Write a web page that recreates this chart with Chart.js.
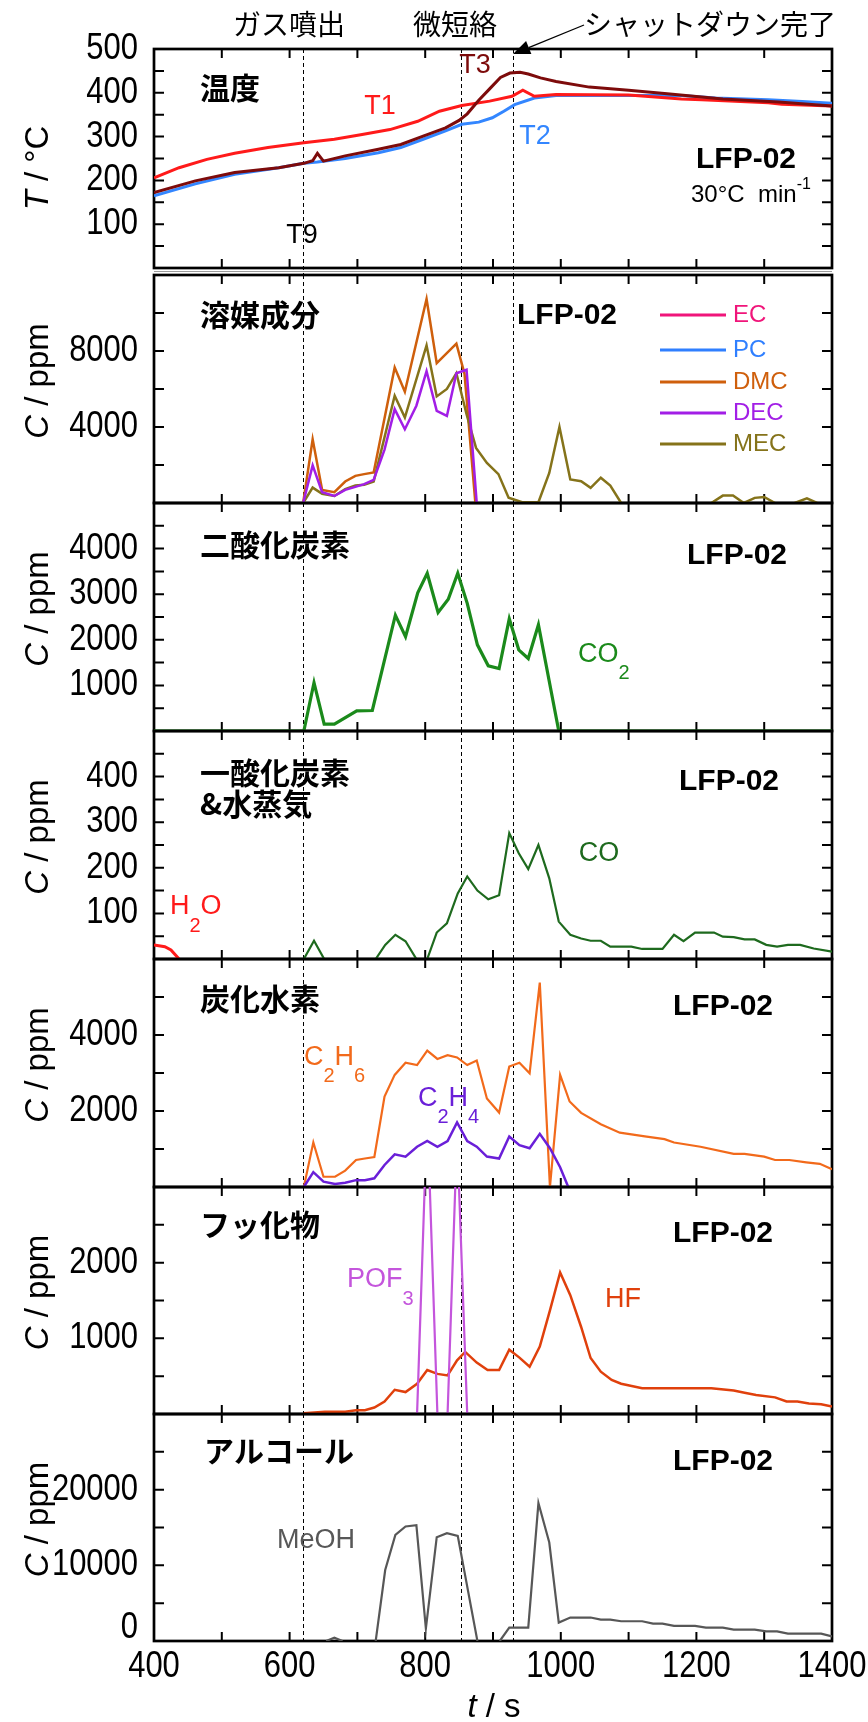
<!DOCTYPE html>
<html lang="ja">
<head>
<meta charset="utf-8">
<title>LFP-02 発生ガス分析</title>
<script src="https://cdn.jsdelivr.net/npm/chart.js@4.4.1/dist/chart.umd.min.js"></script>
<style>
  html, body { margin: 0; padding: 0; background: #fff; }
  #wrap { position: relative; width: 868px; height: 1722px; overflow: hidden; background: #fff; }
  #wrap canvas { position: absolute; left: 0; }
</style>
</head>
<body>
<div id="wrap"></div>
<script>
// イベント時刻 (ガス噴出, 微短絡, シャットダウン完了)
const eventTimes = [620, 853, 929];

// 温度
const t1Time = [400, 437, 478, 519, 568, 621, 666, 707, 748, 789, 821, 854, 895, 928, 944, 961, 993, 1100, 1178, 1208, 1306, 1326, 1400];
const t1Temp = [206, 229, 248, 262, 275, 286, 294, 305, 316, 335, 358, 371, 381, 392, 406, 392, 396, 395, 386, 384, 377, 374, 370];
const t2Time = [400, 461, 519, 584, 621, 641, 682, 731, 764, 797, 830, 854, 879, 899, 916, 932, 961, 993, 1178, 1228, 1306, 1356, 1400];
const t2Temp = [165, 192, 214, 229, 239, 242, 250, 263, 275, 294, 313, 328, 333, 343, 358, 373, 388, 394, 394, 388, 384, 380, 376];
const t3Time = [400, 461, 519, 584, 621, 634, 641, 650, 682, 731, 764, 797, 830, 850, 862, 879, 895, 911, 925, 940, 952, 970, 993, 1042, 1100, 1157, 1239, 1321, 1400];
const t3Temp = [172, 199, 218, 229, 239, 245, 262, 244, 256, 271, 282, 301, 320, 337, 352, 383, 409, 435, 445, 447, 443, 434, 426, 413, 406, 398, 386, 379, 370];

// 溶媒成分
const ecTime = [], ecVal = [];
const pcTime = [], pcVal = [];
const dmcTime = [620, 634, 648, 666, 682, 697, 710, 724, 755, 770, 802, 817, 846, 858, 874];
const dmcVal  = [0, 3350, 690, 570, 1130, 1430, 1520, 1610, 7130, 5860, 10740, 7360, 8390, 6800, 0];
const decTime = [620, 634, 648, 666, 682, 697, 710, 724, 740, 755, 770, 787, 802, 817, 832, 846, 861, 876];
const decVal  = [0, 1980, 570, 370, 690, 850, 990, 1220, 2810, 4940, 3880, 5120, 6940, 4850, 4580, 6830, 7010, 0];
const mecTime = [620, 634, 648, 666, 682, 697, 710, 724, 755, 770, 802, 817, 832, 846, 861, 875, 891, 908, 923, 943, 967, 983, 998, 1014, 1030, 1044, 1059, 1073, 1089, 1150, 1222, 1239, 1254, 1270, 1286, 1300, 1316, 1330, 1345, 1363, 1378];
const mecVal  = [0, 810, 480, 370, 730, 920, 960, 1130, 5650, 4500, 8300, 5610, 6000, 6830, 4670, 2900, 2110, 1520, 280, 40, 40, 1580, 4000, 1240, 1150, 800, 1330, 920, 0, null, 0, 390, 390, 0, 270, 320, 0, null, 0, 250, 0];

// 二酸化炭素
const co2Time = [400, 621, 636, 651, 666, 699, 722, 756, 771, 789, 803, 819, 834, 848, 862, 877, 893, 909, 924, 938, 952, 967, 997, 1400];
const co2Val  = [0, 0, 1060, 150, 150, 440, 450, 2540, 2070, 3030, 3460, 2600, 2890, 3460, 2800, 1890, 1430, 1370, 2460, 1780, 1590, 2330, 0, 0];

// 一酸化炭素 & 水蒸気
const coTime = [621, 636, 651, 690, 727, 741, 756, 771, 787, 803, 817, 832, 848, 862, 877, 893, 909, 924, 938, 952, 967, 983, 997, 1014, 1030, 1044, 1059, 1073, 1104, 1120, 1150, 1167, 1181, 1198, 1226, 1239, 1255, 1271, 1286, 1303, 1319, 1335, 1353, 1373, 1400];
const coVal  = [0, 40, 0, null, 0, 31, 53, 39, 0, 0, 58, 78, 144, 181, 150, 131, 140, 276, 232, 197, 250, 177, 82, 53, 45, 40, 40, 27, 27, 22, 22, 53, 39, 58, 58, 49, 48, 43, 43, 31, 27, 31, 31, 23, 16];
const h2oTime = [400, 416, 425, 437];
const h2oVal  = [31, 27, 20, 0];

// 炭化水素
const c2h6Time = [621, 635, 650, 667, 682, 698, 711, 725, 740, 755, 771, 788, 803, 818, 833, 847, 862, 876, 891, 909, 924, 939, 954, 969, 984, 999, 1013, 1030, 1059, 1087, 1124, 1153, 1167, 1206, 1255, 1271, 1300, 1316, 1337, 1362, 1382, 1400];
const c2h6Val  = [0, 1175, 270, 270, 430, 710, 750, 790, 2380, 2950, 3270, 3210, 3590, 3370, 3470, 3410, 3210, 3330, 2330, 1960, 3170, 3270, 2990, 5380, 0, 2950, 2250, 1950, 1650, 1430, 1330, 1260, 1170, 1060, 870, 870, 800, 710, 710, 650, 610, 470];
const c2h4Time = [621, 635, 650, 667, 682, 698, 711, 725, 740, 755, 771, 788, 803, 818, 833, 847, 862, 876, 891, 909, 924, 939, 954, 969, 984, 999, 1011];
const c2h4Val  = [0, 390, 140, 80, 110, 180, 180, 230, 580, 860, 800, 1060, 1210, 1060, 1210, 1700, 1210, 1060, 800, 750, 1330, 1100, 1020, 1400, 1020, 520, 0];

// フッ化物
const hfTime = [621, 652, 682, 698, 711, 725, 740, 755, 771, 788, 803, 818, 833, 847, 859, 876, 892, 909, 924, 939, 954, 969, 984, 999, 1014, 1030, 1044, 1059, 1075, 1089, 1120, 1222, 1255, 1271, 1288, 1316, 1333, 1349, 1366, 1384, 1400];
const hfVal  = [10, 30, 30, 50, 50, 85, 165, 320, 290, 400, 580, 530, 510, 710, 820, 680, 580, 580, 850, 745, 625, 890, 1370, 1870, 1570, 1150, 740, 560, 450, 400, 340, 340, 310, 280, 250, 220, 165, 165, 140, 130, 100];
const pof3Time = [788, 803, 818, 833, 847, 862];
const pof3Val  = [0, 4000, 0, 0, 3700, 0];

// アルコール
const meohTime = [654, 666, 678, 700, 727, 741, 756, 771, 787, 801, 817, 832, 848, 877, 895, 910, 924, 952, 967, 983, 997, 1014, 1044, 1059, 1073, 1089, 1120, 1136, 1150, 1167, 1198, 1214, 1239, 1255, 1286, 1303, 1319, 1335, 1384, 1400];
const meohVal  = [0, 440, 0, null, 0, 9380, 14030, 15130, 15310, 1640, 13720, 14250, 13890, 0, null, 0, 1770, 1770, 18230, 13010, 2430, 3100, 3100, 2830, 2830, 2610, 2610, 2300, 2300, 1990, 1990, 1770, 1770, 1500, 1500, 1280, 1280, 970, 970, 620];

// 目盛ラベル
const timeTicks    = [400, 600, 800, 1000, 1200, 1400];
const tempTicks    = [100, 200, 300, 400, 500];
const solventTicks = [4000, 8000];
const co2Ticks     = [1000, 2000, 3000, 4000];
const coTicks      = [100, 200, 300, 400];
const hcTicks      = [2000, 4000];
const fluorTicks   = [1000, 2000];
const alcTicks     = [0, 10000, 20000];

// ---------------------------------------------------------------
const W = 868, PLOT_LEFT = 154, PLOT_RIGHT = 832, X_STEP = 100;
const SANS = '"Liberation Sans", Arial, sans-serif';
const JP = '"Noto Sans CJK JP", "Noto Sans CJK SC", sans-serif';
const NUM_FONT = '36px ' + SANS;   // 横に詰めて描く
const NUM_SQUEEZE = 0.86;
const F = {
  jpBold: 'bold 30px ' + JP,
  jpTop: '28px ' + JP,
  lfp: 'bold 30px ' + SANS,
  ser: '27px ' + SANS,
  sub: '20px ' + SANS,
  small: '24px ' + SANS,
  sup: '16px ' + SANS,
  leg: '24px ' + SANS,
  title: '33px ' + SANS,
  titleIt: 'italic 33px ' + SANS
};
const COL = {
  t1: '#ff1a1a', t2: '#3386ff', t3: '#7d0b0b',
  ec: '#f0157a', pc: '#2f7fff', dmc: '#cf5f0c', dec: '#a21ee6', mec: '#85731a',
  co2: '#1b8a1b', co: '#1e6a1e', h2o: '#ff1a1a',
  c2h6: '#f26a1b', c2h4: '#6a1fd8',
  hf: '#e0400c', pof3: '#c455dc', meoh: '#575757'
};

function pts(xs, ys) {
  return xs.map((t, i) => ({ x: t, y: ys[i] }));
}
function line(label, xs, ys, color, width, order) {
  return {
    label: label, data: pts(xs, ys), borderColor: color, backgroundColor: color,
    borderWidth: width, pointRadius: 0, tension: 0, fill: false, spanGaps: false,
    order: order || 0
  };
}
const cTitle = [['C', F.titleIt], [' / ppm', F.title]];

const panels = [
  {
    top: 49, bottom: 268, max: 500, step: 50, ticks: tempTicks, gapBelow: 7,
    yTitle: [['T', F.titleIt], [' / °C', F.title]], titleY: 168,
    datasets: [
      line('T3', t3Time, t3Temp, COL.t3, 3, 0),
      line('T1', t1Time, t1Temp, COL.t1, 3, 1),
      line('T2', t2Time, t2Temp, COL.t2, 3, 2)
    ],
    notes: [
      { x: 200, y: 88, runs: [['温度', F.jpBold]] },
      { x: 380, y: 107, align: 'center', color: COL.t1, runs: [['T1', F.ser]] },
      { x: 475, y: 66, align: 'center', color: COL.t3, runs: [['T3', F.ser]] },
      { x: 535, y: 137, align: 'center', color: COL.t2, runs: [['T2', F.ser]] },
      { x: 746, y: 160, align: 'center', runs: [['LFP-02', F.lfp]] },
      { x: 691, y: 195, runs: [['30°C  min', F.small], ['-1', F.sup, -10]] },
      { x: 302, y: 236, align: 'center', runs: [['T9', F.ser]] },
      { x: 289, y: 24, align: 'center', runs: [['ガス噴出', F.jpTop]] },
      { x: 455, y: 24, align: 'center', runs: [['微短絡', F.jpTop]] },
      { x: 710, y: 24, align: 'center', runs: [['シャットダウン完了', F.jpTop]] }
    ],
    arrow: { from: [584, 25], to: [513, 54] }
  },
  {
    top: 275, bottom: 503, max: 12000, step: 2000, ticks: solventTicks,
    yTitle: cTitle,
    datasets: [
      line('EC', ecTime, ecVal, COL.ec, 2.5, 3),
      line('PC', pcTime, pcVal, COL.pc, 2.5, 4),
      line('DMC', dmcTime, dmcVal, COL.dmc, 2.5, 2),
      line('DEC', decTime, decVal, COL.dec, 2.5, 0),
      line('MEC', mecTime, mecVal, COL.mec, 2.5, 1)
    ],
    legend: { x1: 660, x2: 726, tx: 733, ys: [315, 350, 382, 413, 444] },
    notes: [
      { x: 200, y: 315, runs: [['溶媒成分', F.jpBold]] },
      { x: 567, y: 316, align: 'center', runs: [['LFP-02', F.lfp]] }
    ]
  },
  {
    top: 503, bottom: 731, max: 5000, step: 500, ticks: co2Ticks,
    yTitle: cTitle,
    datasets: [line('CO2', co2Time, co2Val, COL.co2, 3.2)],
    notes: [
      { x: 200, y: 545, runs: [['二酸化炭素', F.jpBold]] },
      { x: 737, y: 556, align: 'center', runs: [['LFP-02', F.lfp]] },
      { x: 578, y: 655, color: COL.co2, runs: [['CO', F.ser], ['2', F.sub, 18]] }
    ]
  },
  {
    top: 731, bottom: 959, max: 500, step: 50, ticks: coTicks,
    yTitle: cTitle,
    datasets: [
      line('CO', coTime, coVal, COL.co, 2.2, 0),
      line('H2O', h2oTime, h2oVal, COL.h2o, 3, 1)
    ],
    notes: [
      { x: 200, y: 773, runs: [['一酸化炭素', F.jpBold]] },
      { x: 200, y: 804, runs: [['&水蒸気', F.jpBold]] },
      { x: 729, y: 782, align: 'center', runs: [['LFP-02', F.lfp]] },
      { x: 599, y: 854, align: 'center', color: COL.co, runs: [['CO', F.ser]] },
      { x: 170, y: 907, color: COL.h2o, runs: [['H', F.ser], ['2', F.sub, 19], ['O', F.ser]] }
    ]
  },
  {
    top: 959, bottom: 1187, max: 6000, step: 1000, ticks: hcTicks,
    yTitle: cTitle,
    datasets: [
      line('C2H4', c2h4Time, c2h4Val, COL.c2h4, 2.5, 0),
      line('C2H6', c2h6Time, c2h6Val, COL.c2h6, 2.2, 1)
    ],
    notes: [
      { x: 200, y: 999, runs: [['炭化水素', F.jpBold]] },
      { x: 723, y: 1007, align: 'center', runs: [['LFP-02', F.lfp]] },
      { x: 304, y: 1058, color: COL.c2h6, runs: [['C', F.ser], ['2', F.sub, 18], ['H', F.ser], ['6', F.sub, 18]] },
      { x: 418, y: 1099, color: COL.c2h4, runs: [['C', F.ser], ['2', F.sub, 18], ['H', F.ser], ['4', F.sub, 18]] }
    ]
  },
  {
    top: 1187, bottom: 1414, max: 3000, step: 500, ticks: fluorTicks,
    yTitle: cTitle,
    datasets: [
      line('HF', hfTime, hfVal, COL.hf, 2.5, 1),
      line('POF3', pof3Time, pof3Val, COL.pof3, 2.2, 0)
    ],
    notes: [
      { x: 200, y: 1225, runs: [['フッ化物', F.jpBold]] },
      { x: 723, y: 1234, align: 'center', runs: [['LFP-02', F.lfp]] },
      { x: 347, y: 1280, color: COL.pof3, runs: [['POF', F.ser], ['3', F.sub, 19]] },
      { x: 623, y: 1300, align: 'center', color: COL.hf, runs: [['HF', F.ser]] }
    ]
  },
  {
    top: 1414, bottom: 1641, max: 30000, step: 5000, ticks: alcTicks, showTime: true, zeroLift: 13,
    yTitle: cTitle,
    datasets: [line('MeOH', meohTime, meohVal, COL.meoh, 2.2)],
    notes: [
      { x: 204, y: 1451, runs: [['アルコール', F.jpBold]] },
      { x: 723, y: 1462, align: 'center', runs: [['LFP-02', F.lfp]] },
      { x: 316, y: 1541, align: 'center', color: COL.meoh, runs: [['MeOH', F.ser]] },
      { x: 494, y: 1708, align: 'center', runs: [['t', F.titleIt], [' / s', F.title]] }
    ]
  }
];

// 書式の異なる区切りを横に並べて描く
function drawRuns(ctx, runs, x, y, align) {
  let total = 0;
  const widths = runs.map(r => { ctx.font = r[1]; const w = ctx.measureText(r[0]).width; total += w; return w; });
  let cx = align === 'center' ? x - total / 2 : x;
  ctx.textAlign = 'left';
  ctx.textBaseline = 'middle';
  runs.forEach((r, i) => {
    ctx.font = r[1];
    ctx.fillText(r[0], cx, y + (r[2] || 0));
    cx += widths[i];
  });
}

// 目盛の数字 (幅を詰めた書体)
function drawNum(ctx, text, x, y, align) {
  ctx.save();
  ctx.translate(x, y);
  ctx.scale(NUM_SQUEEZE, 1);
  ctx.font = NUM_FONT;
  ctx.fillStyle = '#000';
  ctx.textAlign = align;
  ctx.textBaseline = 'middle';
  ctx.fillText(text, 0, 0);
  ctx.restore();
}

function makeDeco(p, canvasTop) {
  return {
    id: 'deco',
    beforeDatasetsDraw(chart) {
      const { ctx, chartArea: a } = chart;
      const xs = chart.scales.x, ys = chart.scales.y;
      ctx.save();
      ctx.strokeStyle = '#000';
      // 破線 (イベント)
      ctx.lineWidth = 1;
      ctx.setLineDash([4, 3]);
      eventTimes.forEach(t => {
        const px = Math.round(xs.getPixelForValue(t)) + 0.5;
        ctx.beginPath();
        ctx.moveTo(px, a.top);
        ctx.lineTo(px, a.bottom + (p.gapBelow || 0));
        ctx.stroke();
      });
      ctx.setLineDash([]);
      // 内向き目盛
      ctx.lineWidth = 2;
      for (let v = xs.min + X_STEP; v < xs.max; v += X_STEP) {
        const px = xs.getPixelForValue(v);
        ctx.beginPath();
        ctx.moveTo(px, a.top); ctx.lineTo(px, a.top + 9);
        ctx.moveTo(px, a.bottom); ctx.lineTo(px, a.bottom - 9);
        ctx.stroke();
      }
      for (let v = p.step; v < p.max; v += p.step) {
        const py = ys.getPixelForValue(v);
        ctx.beginPath();
        ctx.moveTo(a.left, py); ctx.lineTo(a.left + 10, py);
        ctx.moveTo(a.right, py); ctx.lineTo(a.right - 10, py);
        ctx.stroke();
      }
      // 枠
      ctx.lineWidth = 2.7;
      ctx.strokeRect(a.left, a.top, a.right - a.left, a.bottom - a.top);
      if (p.gapBelow) {
        ctx.lineWidth = 1;
        ctx.strokeStyle = '#9a9a9a';
        ctx.beginPath();
        ctx.moveTo(a.left, a.bottom + p.gapBelow / 2);
        ctx.lineTo(a.right, a.bottom + p.gapBelow / 2);
        ctx.stroke();
      }
      ctx.restore();
    },
    afterDatasetsDraw(chart) {
      const ctx = chart.ctx;
      const xs = chart.scales.x, ys = chart.scales.y;
      ctx.save();
      // 目盛ラベル
      p.ticks.forEach(v => {
        const lift = v === 0 ? (p.zeroLift || 0) : 0;
        drawNum(ctx, String(v), PLOT_LEFT - 16, ys.getPixelForValue(v) - lift, 'right');
      });
      if (p.showTime) {
        timeTicks.forEach(v => drawNum(ctx, String(v), xs.getPixelForValue(v), 1667 - canvasTop, 'center'));
      }
      // 縦軸タイトル
      ctx.fillStyle = '#000';
      ctx.save();
      ctx.translate(39, (p.titleY || (p.top + p.bottom) / 2 - 8) - canvasTop);
      ctx.rotate(-Math.PI / 2);
      drawRuns(ctx, p.yTitle, 0, 0, 'center');
      ctx.restore();
      // 注記
      p.notes.forEach(n => {
        ctx.fillStyle = n.color || '#000';
        drawRuns(ctx, n.runs, n.x, n.y - canvasTop, n.align);
      });
      // 凡例
      if (p.legend) {
        const L = p.legend;
        chart.data.datasets.forEach((ds, i) => {
          const y = L.ys[i] - canvasTop;
          ctx.strokeStyle = ds.borderColor;
          ctx.lineWidth = 3;
          ctx.beginPath();
          ctx.moveTo(L.x1, y); ctx.lineTo(L.x2, y);
          ctx.stroke();
          ctx.fillStyle = ds.borderColor;
          drawRuns(ctx, [[ds.label, F.leg]], L.tx, y);
        });
      }
      // 矢印
      if (p.arrow) {
        const [x0, y0] = p.arrow.from, [x1, y1] = p.arrow.to;
        const ang = Math.atan2(y1 - y0, x1 - x0);
        const hl = 17, hw = 7;
        const bx = x1 - hl * Math.cos(ang), by = y1 - hl * Math.sin(ang);
        ctx.strokeStyle = '#000';
        ctx.lineWidth = 1.3;
        ctx.beginPath();
        ctx.moveTo(x0, y0 - canvasTop); ctx.lineTo(bx, by - canvasTop);
        ctx.stroke();
        ctx.fillStyle = '#000';
        ctx.beginPath();
        ctx.moveTo(x1, y1 - canvasTop);
        ctx.lineTo(bx + hw * Math.sin(ang), by - hw * Math.cos(ang) - canvasTop);
        ctx.lineTo(bx - hw * Math.sin(ang), by + hw * Math.cos(ang) - canvasTop);
        ctx.closePath();
        ctx.fill();
      }
      ctx.restore();
    }
  };
}

const wrap = document.getElementById('wrap');
panels.forEach((p, idx) => {
  const canvasTop = idx === 0 ? 0 : p.top - 30;
  const canvasBottom = p.showTime ? 1722 : p.bottom + 30;
  const cv = document.createElement('canvas');
  cv.width = W;
  cv.height = canvasBottom - canvasTop;
  cv.style.top = canvasTop + 'px';
  wrap.appendChild(cv);

  new Chart(cv, {
    type: 'line',
    data: { datasets: p.datasets },
    options: {
      responsive: false,
      animation: false,
      devicePixelRatio: 1,
      layout: {
        autoPadding: false,
        padding: { left: PLOT_LEFT, right: W - PLOT_RIGHT, top: p.top - canvasTop, bottom: canvasBottom - p.bottom }
      },
      plugins: { legend: { display: false }, tooltip: { enabled: false } },
      scales: {
        x: { type: 'linear', min: 400, max: 1400, display: false },
        y: { type: 'linear', min: 0, max: p.max, display: false }
      }
    },
    plugins: [makeDeco(p, canvasTop)]
  });
});
</script>
</body>
</html>
